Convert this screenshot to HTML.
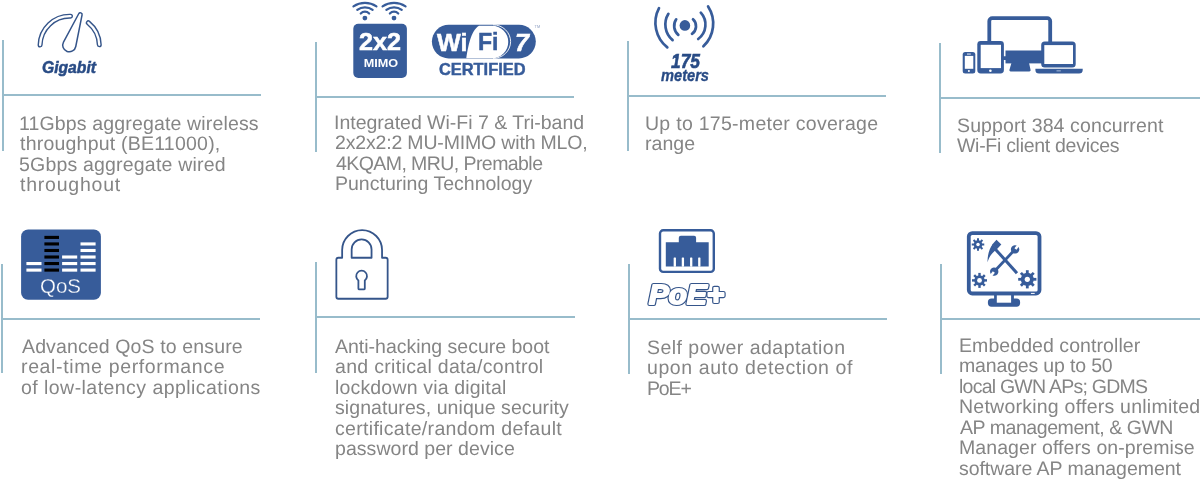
<!DOCTYPE html>
<html><head><meta charset="utf-8">
<style>
html,body{margin:0;padding:0;background:#fff;width:1200px;height:481px;overflow:hidden;position:relative}
.t{position:absolute;font-family:"Liberation Sans",sans-serif;font-size:19.5px;line-height:20.5px;color:#858585;white-space:nowrap;will-change:transform;text-rendering:geometricPrecision}
.v{position:absolute;width:2px;background:#98bccb}
.h{position:absolute;height:2px;background:#98bccb}
svg{position:absolute;left:0;top:0;will-change:transform}
</style></head><body>
<!-- lines row1 -->
<div class="v" style="left:1.5px;top:40px;height:111px"></div>
<div class="h" style="left:3px;top:94.2px;width:258px"></div>
<div class="v" style="left:314.5px;top:42px;height:110px"></div>
<div class="h" style="left:316px;top:96px;width:258px"></div>
<div class="v" style="left:626.5px;top:41px;height:110px"></div>
<div class="h" style="left:628px;top:95px;width:258px"></div>
<div class="v" style="left:939px;top:43px;height:110px"></div>
<div class="h" style="left:941px;top:97px;width:259px"></div>
<!-- lines row2 -->
<div class="v" style="left:0.5px;top:264px;height:109px"></div>
<div class="h" style="left:2px;top:318px;width:258px"></div>
<div class="v" style="left:315px;top:262px;height:110.5px"></div>
<div class="h" style="left:317px;top:316px;width:258px"></div>
<div class="v" style="left:627.5px;top:264px;height:110px"></div>
<div class="h" style="left:629px;top:318px;width:258px"></div>
<div class="v" style="left:940px;top:264px;height:110px"></div>
<div class="h" style="left:942px;top:318px;width:258px"></div>

<div class="t" style="left:18.5px;top:113.8px;letter-spacing:0.15px">11Gbps aggregate wireless</div>
<div class="t" style="left:19.5px;top:134.3px;letter-spacing:0.22px">throughput (BE11000),</div>
<div class="t" style="left:18.5px;top:154.8px;letter-spacing:0.19px">5Gbps aggregate wired</div>
<div class="t" style="left:19.5px;top:175.3px;letter-spacing:0.78px">throughout</div>
<div class="t" style="left:333.5px;top:112.8px;letter-spacing:-0.01px">Integrated Wi-Fi 7 &amp; Tri-band</div>
<div class="t" style="left:334.5px;top:133.3px;letter-spacing:-0.17px">2x2x2:2 MU-MIMO with MLO,</div>
<div class="t" style="left:335.5px;top:153.8px;letter-spacing:-0.57px">4KQAM, MRU, Premable</div>
<div class="t" style="left:334.5px;top:174.3px;letter-spacing:0.01px">Puncturing Technology</div>
<div class="t" style="left:645px;top:113.6px;letter-spacing:0.28px">Up to 175-meter coverage</div>
<div class="t" style="left:645px;top:134.1px;letter-spacing:0.05px">range</div>
<div class="t" style="left:957px;top:115.6px;letter-spacing:0.12px">Support 384 concurrent</div>
<div class="t" style="left:957px;top:136.1px;letter-spacing:-0.29px">Wi-Fi client devices</div>
<div class="t" style="left:21.5px;top:336.9px;letter-spacing:0.13px">Advanced QoS to ensure</div>
<div class="t" style="left:20.5px;top:357.4px;letter-spacing:0.64px">real-time performance</div>
<div class="t" style="left:20.5px;top:377.9px;letter-spacing:0.45px">of low-latency applications</div>
<div class="t" style="left:334.5px;top:336.7px;letter-spacing:-0.01px">Anti-hacking secure boot</div>
<div class="t" style="left:334.5px;top:357.2px;letter-spacing:0.32px">and critical data/control</div>
<div class="t" style="left:334.5px;top:377.7px;letter-spacing:0.17px">lockdown via digital</div>
<div class="t" style="left:334.5px;top:398.2px;letter-spacing:0.07px">signatures, unique security</div>
<div class="t" style="left:334.5px;top:418.7px;letter-spacing:0.31px">certificate/random default</div>
<div class="t" style="left:334.5px;top:439.2px;letter-spacing:0.05px">password per device</div>
<div class="t" style="left:647px;top:337.5px;letter-spacing:0.47px">Self power adaptation</div>
<div class="t" style="left:647px;top:358px;letter-spacing:0.59px">upon auto detection of</div>
<div class="t" style="left:647px;top:378.5px;letter-spacing:-1.15px">PoE+</div>
<div class="t" style="left:958.5px;top:335.8px;letter-spacing:0.07px">Embedded controller</div>
<div class="t" style="left:958.5px;top:356.3px;letter-spacing:-0.16px">manages up to 50</div>
<div class="t" style="left:958.5px;top:376.8px;letter-spacing:-0.76px">local GWN APs; GDMS</div>
<div class="t" style="left:958.5px;top:397.3px;letter-spacing:0.24px">Networking offers unlimited</div>
<div class="t" style="left:959.5px;top:417.8px;letter-spacing:-0.44px">AP management, &amp; GWN</div>
<div class="t" style="left:958.5px;top:438.3px;letter-spacing:0.08px">Manager offers on-premise</div>
<div class="t" style="left:958.5px;top:458.8px;letter-spacing:-0.05px">software AP management</div>
<svg width="1200" height="481" viewBox="0 0 1200 481">
<path d="M40.11,45.03 A29.6,29.6 0 0 1 70.47,16.21" fill="none" stroke="#35558a" stroke-width="5.1" stroke-linecap="round"/>
<path d="M40.11,45.03 A29.6,29.6 0 0 1 70.47,16.21" fill="none" stroke="#fff" stroke-width="2.3" stroke-linecap="round"/>
<path d="M88.33,22.8 A29.6,29.6 0 0 1 99.28,44.77" fill="none" stroke="#35558a" stroke-width="5.1" stroke-linecap="round"/>
<path d="M88.33,22.8 A29.6,29.6 0 0 1 99.28,44.77" fill="none" stroke="#fff" stroke-width="2.3" stroke-linecap="round"/>
<path d="M78.71,13.75 L63.49,42.07 A6.6,6.6 0 1 0 75.77,46.49 L82.07,14.95 A1.8,1.8 0 0 0 78.71,13.75 Z" fill="#fff" stroke="#35558a" stroke-width="1.5"/>
<text x="42" y="72.5" font-family="Liberation Sans" font-weight="bold" font-style="italic" font-size="15.8" fill="#284b85" stroke="#284b85" stroke-width="0.5" textLength="54" lengthAdjust="spacingAndGlyphs">Gigabit</text>
<rect x="353.3" y="23.7" width="53.6" height="54.2" rx="5" fill="#375c9a"/>
<text x="359" y="50" font-family="Liberation Sans" font-weight="bold" font-size="23" fill="#fff" stroke="#fff" stroke-width="0.5" textLength="42" lengthAdjust="spacingAndGlyphs">2x2</text>
<text x="363.8" y="66.5" font-family="Liberation Sans" font-weight="bold" font-size="10.5" fill="#fff" textLength="34.4" lengthAdjust="spacingAndGlyphs">MIMO</text>
<circle cx="364.9" cy="18.1" r="2.4" fill="#375c9a"/>
<path d="M360.75,13.5 A5.8,5.8 0 0 1 369.15,13.5" fill="none" stroke="#375c9a" stroke-width="2.2" stroke-linecap="round"/>
<path d="M357.25,9.9 A12.7,12.7 0 0 1 372.65,9.9" fill="none" stroke="#375c9a" stroke-width="2.2" stroke-linecap="round"/>
<path d="M353.45,6.3 A21.15,21.15 0 0 1 376.45,6.3" fill="none" stroke="#375c9a" stroke-width="2.2" stroke-linecap="round"/>
<circle cx="394" cy="18.1" r="2.4" fill="#375c9a"/>
<path d="M389.85,13.5 A5.8,5.8 0 0 1 398.25,13.5" fill="none" stroke="#375c9a" stroke-width="2.2" stroke-linecap="round"/>
<path d="M386.35,9.9 A12.7,12.7 0 0 1 401.75,9.9" fill="none" stroke="#375c9a" stroke-width="2.2" stroke-linecap="round"/>
<path d="M382.55,6.3 A21.15,21.15 0 0 1 405.55,6.3" fill="none" stroke="#375c9a" stroke-width="2.2" stroke-linecap="round"/>
<rect x="431.9" y="24.8" width="103.9" height="33.6" rx="16.8" fill="#375c9a"/>
<path d="M466.3,58.3 C468,48 470.5,31 479,25.8 L492,25.7 A16.25,16.25 0 0 1 492,58.2 Z" fill="#fff"/>
<path d="M493,24.8 A17.6,16.8 0 0 1 493,58.4" fill="none" stroke="#fff" stroke-width="0.9"/>
<text x="437" y="50.6" font-family="Liberation Sans" font-weight="bold" font-size="23.5" fill="#fff" stroke="#fff" stroke-width="0.5" textLength="30.5" lengthAdjust="spacingAndGlyphs">Wi</text>
<text x="478" y="50.2" font-family="Liberation Sans" font-weight="bold" font-size="23.5" fill="#375c9a" stroke="#375c9a" stroke-width="0.5" textLength="20.5" lengthAdjust="spacingAndGlyphs">Fi</text>
<text x="515" y="50.5" font-family="Liberation Sans" font-weight="bold" font-style="italic" font-size="24" fill="#fff" stroke="#fff" stroke-width="0.5" textLength="14" lengthAdjust="spacingAndGlyphs">7</text>
<text x="534.6" y="27.8" font-family="Liberation Sans" font-size="3.8" fill="#8a9cc0">TM</text>
<text x="439" y="74.6" font-family="Liberation Sans" font-weight="bold" font-size="16.3" fill="#375c9a" stroke="#375c9a" stroke-width="0.45" textLength="86.5" lengthAdjust="spacingAndGlyphs">CERTIFIED</text>
<circle cx="684.9" cy="25.4" r="5.3" fill="#375c9a"/>
<path d="M676.2,19.3 A11.79,11.79 0 0 0 678.3,34.9" fill="none" stroke="#375c9a" stroke-width="2.7" stroke-linecap="round"/>
<path d="M668.4,13.8 A20.4,20.4 0 0 0 672.6,40.1" fill="none" stroke="#375c9a" stroke-width="2.7" stroke-linecap="round"/>
<path d="M659,8.1 A31.6,31.6 0 0 0 667.3,47.4" fill="none" stroke="#375c9a" stroke-width="2.7" stroke-linecap="round"/>
<path d="M693,19.3 A9.27,9.27 0 0 1 692,33.8" fill="none" stroke="#375c9a" stroke-width="2.7" stroke-linecap="round"/>
<path d="M700.8,12.7 A17.78,17.78 0 0 1 698.2,39" fill="none" stroke="#375c9a" stroke-width="2.7" stroke-linecap="round"/>
<path d="M708.1,6.5 A31.28,31.28 0 0 1 703.4,46.3" fill="none" stroke="#375c9a" stroke-width="2.7" stroke-linecap="round"/>
<text x="671" y="67.8" font-family="Liberation Sans" font-weight="bold" font-style="italic" font-size="20" fill="#284b85" stroke="#284b85" stroke-width="0.6" textLength="29" lengthAdjust="spacingAndGlyphs">175</text>
<text x="661" y="80.9" font-family="Liberation Sans" font-weight="bold" font-style="italic" font-size="16.8" fill="#284b85" stroke="#284b85" stroke-width="0.35" textLength="48" lengthAdjust="spacingAndGlyphs">meters</text>
<rect x="989.3" y="18.1" width="60.9" height="40" rx="3" fill="none" stroke="#375c9a" stroke-width="3.8"/>
<rect x="1005.5" y="50.5" width="37" height="12.9" fill="#375c9a"/>
<path d="M1011.5,62.7 L1029,62.7 L1030.6,70 Q1030.8,71.5 1029.4,71.5 L1010.6,71.5 Q1009.2,71.5 1009.4,70 Z" fill="#375c9a"/>
<rect x="977.3" y="41.1" width="26.6" height="32.4" rx="3.4" fill="#375c9a"/>
<rect x="980.7" y="44.8" width="20.3" height="23.3" fill="#fff"/>
<circle cx="990.4" cy="70.8" r="1.3" fill="#fff"/>
<rect x="962.7" y="51.9" width="12.6" height="21.6" rx="2.5" fill="#375c9a"/>
<rect x="964.8" y="55.9" width="8.5" height="12.9" fill="#fff"/>
<rect x="967" y="53.6" width="3.8" height="0.9" fill="#fff"/>
<circle cx="968.9" cy="71.1" r="1" fill="#fff"/>
<rect x="1041.2" y="41.5" width="34.5" height="26" rx="3.5" fill="#375c9a"/>
<rect x="1044.3" y="45.1" width="28.7" height="18.9" fill="#fff"/>
<path d="M1035.4,68.8 L1082.7,68.8 L1082.7,70 Q1082.7,73.5 1079,73.5 L1039,73.5 Q1035.4,73.5 1035.4,70 Z" fill="#375c9a"/>
<rect x="1056.5" y="70.3" width="4.3" height="1.1" fill="#9fb3d3"/>
<rect x="21.1" y="229.5" width="79.8" height="70.3" rx="7" fill="#375c9a"/>
<rect x="26.4" y="262.01" width="15.1" height="3.1" fill="#fff"/>
<rect x="26.4" y="268.55" width="15.1" height="3.1" fill="#fff"/>
<rect x="44.4" y="235.85" width="14.6" height="3.1" fill="#000"/>
<rect x="44.4" y="242.39" width="14.6" height="3.1" fill="#000"/>
<rect x="44.4" y="248.93" width="14.6" height="3.1" fill="#000"/>
<rect x="44.4" y="255.47" width="14.6" height="3.1" fill="#000"/>
<rect x="44.4" y="262.01" width="14.6" height="3.1" fill="#000"/>
<rect x="44.4" y="268.55" width="14.6" height="3.1" fill="#000"/>
<rect x="62.1" y="255.47" width="15.1" height="3.1" fill="#fff"/>
<rect x="62.1" y="262.01" width="15.1" height="3.1" fill="#fff"/>
<rect x="62.1" y="268.55" width="15.1" height="3.1" fill="#fff"/>
<rect x="80.5" y="242.39" width="15.1" height="3.1" fill="#fff"/>
<rect x="80.5" y="248.93" width="15.1" height="3.1" fill="#fff"/>
<rect x="80.5" y="255.47" width="15.1" height="3.1" fill="#fff"/>
<rect x="80.5" y="262.01" width="15.1" height="3.1" fill="#fff"/>
<rect x="80.5" y="268.55" width="15.1" height="3.1" fill="#fff"/>
<text x="40" y="292.5" font-family="Liberation Sans" font-size="20.8" fill="#fff" stroke="#375c9a" stroke-width="0.3" textLength="41" lengthAdjust="spacingAndGlyphs">QoS</text>
<path d="M342.15,257.75 L338.35,257.75 Q336.35,257.75 336.35,259.75 L336.35,296.75 Q336.35,298.75 338.35,298.75 L385.65,298.75 Q387.65,298.75 387.65,296.75 L387.65,259.75 Q387.65,257.75 385.65,257.75 L382.05,257.75 L382.05,250.1 A19.95,19.95 0 0 0 342.15,250.1 Z" fill="none" stroke="#35558a" stroke-width="1.8" stroke-linejoin="round"/>
<path d="M351.65,257.75 L351.65,249.4 A9.95,9.95 0 0 1 371.55,249.4 L371.55,257.75 Z" fill="none" stroke="#35558a" stroke-width="1.8" stroke-linejoin="round"/>
<path d="M358.40,280.45 L358.40,288.4 Q358.40,289.4 359.40,289.4 L363.80,289.4 Q364.80,289.4 364.80,288.4 L364.80,280.45 A5.40,5.40 0 1 0 358.40,280.45 Z" fill="none" stroke="#35558a" stroke-width="1.8" stroke-linejoin="round"/>
<rect x="660" y="230.3" width="53.8" height="41.6" rx="3.2" fill="none" stroke="#375c9a" stroke-width="2.4"/>
<path d="M665.8,242.3 L678.8,242.3 L678.8,237.8 Q678.8,235.8 680.8,235.8 L694.1,235.8 Q696.1,235.8 696.1,237.8 L696.1,242.3 L708.7,242.3 L708.7,266.6 L665.8,266.6 Z" fill="#375c9a"/>
<rect x="673.65" y="257.4" width="2.3" height="9.3" rx="0.6" fill="#fff"/>
<rect x="681.75" y="257.4" width="2.3" height="9.3" rx="0.6" fill="#fff"/>
<rect x="690.05" y="257.4" width="2.3" height="9.3" rx="0.6" fill="#fff"/>
<rect x="698.15" y="257.4" width="2.3" height="9.3" rx="0.6" fill="#fff"/>
<text x="649" y="303.6" font-family="Liberation Sans" font-weight="bold" font-style="italic" font-size="28" fill="#35558a" stroke="#35558a" stroke-width="4.2" stroke-linejoin="round" textLength="75" lengthAdjust="spacingAndGlyphs">PoE+</text>
<text x="649" y="303.6" font-family="Liberation Sans" font-weight="bold" font-style="italic" font-size="28" fill="#fff" stroke="#fff" stroke-width="1.9" stroke-linejoin="round" textLength="75" lengthAdjust="spacingAndGlyphs">PoE+</text>
<rect x="968.8" y="233.1" width="70.7" height="60.4" rx="3.5" fill="none" stroke="#375c9a" stroke-width="3.8"/>
<rect x="1030.9" y="292.9" width="3.8" height="1" fill="#fff"/>
<rect x="987.9" y="298.5" width="32.2" height="8.2" rx="3.6" fill="#375c9a"/>
<rect x="994.1" y="295" width="19.8" height="5" fill="#375c9a"/>
<rect x="996.8" y="295.4" width="14.3" height="7.3" fill="#fff"/>
<circle cx="978" cy="244.5" r="4.3" fill="#375c9a"/>
<rect x="977" y="238.25" width="2" height="2.75" fill="#375c9a" transform="rotate(0 978 244.5)"/>
<rect x="977" y="238.25" width="2" height="2.75" fill="#375c9a" transform="rotate(45 978 244.5)"/>
<rect x="977" y="238.25" width="2" height="2.75" fill="#375c9a" transform="rotate(90 978 244.5)"/>
<rect x="977" y="238.25" width="2" height="2.75" fill="#375c9a" transform="rotate(135 978 244.5)"/>
<rect x="977" y="238.25" width="2" height="2.75" fill="#375c9a" transform="rotate(180 978 244.5)"/>
<rect x="977" y="238.25" width="2" height="2.75" fill="#375c9a" transform="rotate(225 978 244.5)"/>
<rect x="977" y="238.25" width="2" height="2.75" fill="#375c9a" transform="rotate(270 978 244.5)"/>
<rect x="977" y="238.25" width="2" height="2.75" fill="#375c9a" transform="rotate(315 978 244.5)"/>
<circle cx="978" cy="244.5" r="1.75" fill="#fff"/>
<circle cx="979.5" cy="280.4" r="5.2" fill="#375c9a"/>
<rect x="978.3" y="272.9" width="2.4" height="3.1" fill="#375c9a" transform="rotate(0 979.5 280.4)"/>
<rect x="978.3" y="272.9" width="2.4" height="3.1" fill="#375c9a" transform="rotate(45 979.5 280.4)"/>
<rect x="978.3" y="272.9" width="2.4" height="3.1" fill="#375c9a" transform="rotate(90 979.5 280.4)"/>
<rect x="978.3" y="272.9" width="2.4" height="3.1" fill="#375c9a" transform="rotate(135 979.5 280.4)"/>
<rect x="978.3" y="272.9" width="2.4" height="3.1" fill="#375c9a" transform="rotate(180 979.5 280.4)"/>
<rect x="978.3" y="272.9" width="2.4" height="3.1" fill="#375c9a" transform="rotate(225 979.5 280.4)"/>
<rect x="978.3" y="272.9" width="2.4" height="3.1" fill="#375c9a" transform="rotate(270 979.5 280.4)"/>
<rect x="978.3" y="272.9" width="2.4" height="3.1" fill="#375c9a" transform="rotate(315 979.5 280.4)"/>
<circle cx="979.5" cy="280.4" r="2.4" fill="#fff"/>
<circle cx="1027.3" cy="279.3" r="6.5" fill="#375c9a"/>
<rect x="1025.9" y="270.2" width="2.8" height="3.4" fill="#375c9a" transform="rotate(0 1027.3 279.3)"/>
<rect x="1025.9" y="270.2" width="2.8" height="3.4" fill="#375c9a" transform="rotate(45 1027.3 279.3)"/>
<rect x="1025.9" y="270.2" width="2.8" height="3.4" fill="#375c9a" transform="rotate(90 1027.3 279.3)"/>
<rect x="1025.9" y="270.2" width="2.8" height="3.4" fill="#375c9a" transform="rotate(135 1027.3 279.3)"/>
<rect x="1025.9" y="270.2" width="2.8" height="3.4" fill="#375c9a" transform="rotate(180 1027.3 279.3)"/>
<rect x="1025.9" y="270.2" width="2.8" height="3.4" fill="#375c9a" transform="rotate(225 1027.3 279.3)"/>
<rect x="1025.9" y="270.2" width="2.8" height="3.4" fill="#375c9a" transform="rotate(270 1027.3 279.3)"/>
<rect x="1025.9" y="270.2" width="2.8" height="3.4" fill="#375c9a" transform="rotate(315 1027.3 279.3)"/>
<circle cx="1027.3" cy="279.3" r="2.6" fill="#fff"/>
<path d="M996.5,239.8 L1001.3,244.4 L996.6,249.4 L992.2,244.6 Z" fill="#375c9a"/>
<path d="M992.6,244.2 C989.8,248 987.4,254 987.5,262.3 C989,257.5 991.5,252.5 997.2,249.2 Z" fill="#375c9a"/>
<line x1="995.6" y1="249.4" x2="1017" y2="273.2" stroke="#375c9a" stroke-width="3"/>
<line x1="995" y1="270.8" x2="1014.2" y2="250.3" stroke="#375c9a" stroke-width="2.8"/>
<g transform="translate(1015.1 249.4) rotate(-52)"><circle r="4.2" fill="#375c9a"/><rect x="0.6" y="-1.3" width="5" height="2.6" fill="#fff"/></g>
<g transform="translate(994.2 271.6) rotate(128)"><circle r="4.2" fill="#375c9a"/><rect x="0.6" y="-1.3" width="5" height="2.6" fill="#fff"/></g>
</svg>
</body></html>
